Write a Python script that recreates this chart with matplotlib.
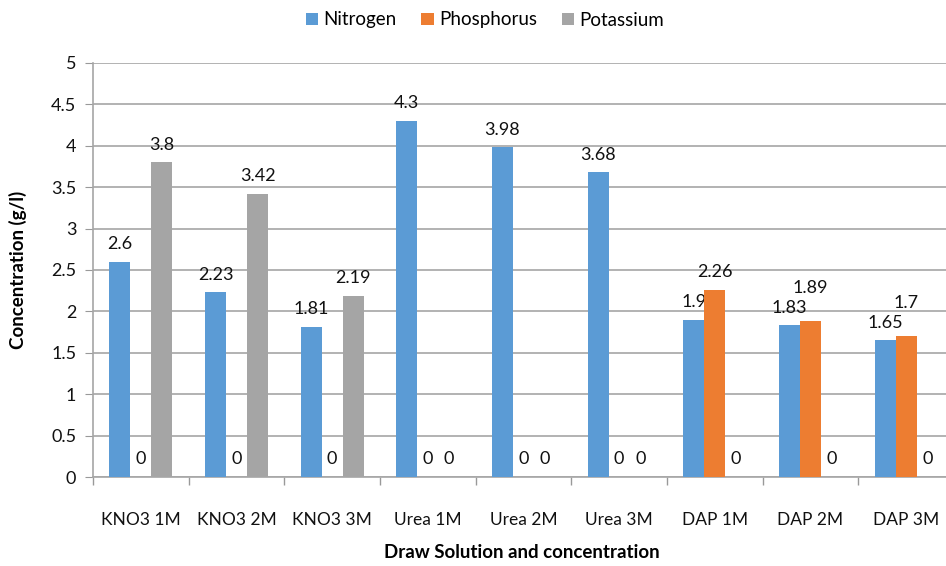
import numpy as np
import matplotlib
matplotlib.use("Agg")
from matplotlib import pyplot as plt

categories = ["KNO3 1M", "KNO3 2M", "KNO3 3M", "Urea 1M", "Urea 2M",
              "Urea 3M", "DAP 1M", "DAP 2M", "DAP 3M"]
nitrogen = [2.6, 2.23, 1.81, 4.3, 3.98, 3.68, 1.9, 1.83, 1.65]
phosphorus = [0, 0, 0, 0, 0, 0, 2.26, 1.89, 1.7]
potassium = [3.8, 3.42, 2.19, 0, 0, 0, 0, 0, 0]

series = [("Nitrogen", nitrogen, "#5B9BD5"),
          ("Phosphorus", phosphorus, "#ED7D31"),
          ("Potassium", potassium, "#A5A5A5")]

# labels that get pushed up so they don't collide with the neighbour
label_lift = {("DAP 2M", "Phosphorus"): 11, ("DAP 3M", "Phosphorus"): 11}

plt.rcParams["font.family"] = ["Lato", "DejaVu Sans"]

fig = plt.figure(figsize=(9.46, 5.66), dpi=100)
ax = fig.add_axes([93 / 946, 89 / 566, 861 / 946, 414 / 566])

x = np.arange(len(categories))
w = 0.22
for i, (name, vals, col) in enumerate(series):
    pos = x + (i - 1) * w
    ax.bar(pos, vals, width=w, color=col, label=name, zorder=3)
    for cat, px, v in zip(categories, pos, vals):
        dy = 7 + label_lift.get((cat, name), 0)
        ax.annotate(f"{v:g}", (px, v), xytext=(0, dy), textcoords="offset points",
                    ha="center", va="bottom", fontsize=13, color="#111111")

ax.set_ylim(0, 5)
ax.set_yticks(np.arange(0, 5.01, 0.5))
ax.set_yticklabels([f"{t:g}" for t in np.arange(0, 5.01, 0.5)])
ax.set_xlim(-0.5, len(categories) - 0.5)
ax.set_xticks(x)
ax.set_xticklabels(categories)
ax.set_xticks(np.arange(-0.5, len(categories), 1.0), minor=True)
ax.tick_params(axis="x", which="major", length=0, pad=25, labelsize=12.5, labelcolor="#111111")
ax.tick_params(axis="x", which="minor", length=6, color="#999999", width=1)
ax.tick_params(axis="y", length=6, color="#999999", labelsize=13, pad=6, labelcolor="#111111")

ax.grid(axis="y", color="#A6A6A6", linewidth=1.2, zorder=0)
for s in ["top", "right"]:
    ax.spines[s].set_visible(False)
for s in ["left", "bottom"]:
    ax.spines[s].set_color("#A6A6A6")
    ax.spines[s].set_linewidth(1.2)

ax.set_ylabel("Concentration (g/l)", fontsize=13.5, fontweight="bold")
ax.yaxis.set_label_coords(-(93 - 18) / 861, 0.5)
ax.set_xlabel("Draw Solution and concentration", fontsize=13.5, fontweight="bold")
ax.xaxis.set_label_coords((522 - 93) / 861, -(552 - 477) / 414)
ax.xaxis.label.set_va("center")
ax.yaxis.label.set_va("center")

fig.legend(loc="center", bbox_to_anchor=(485 / 946, 1 - 20 / 566), ncol=3, frameon=False,
           fontsize=13.5, handlelength=0.65, handleheight=0.65, handletextpad=0.3,
           columnspacing=1.3)

fig.savefig("out.png", dpi=100)
